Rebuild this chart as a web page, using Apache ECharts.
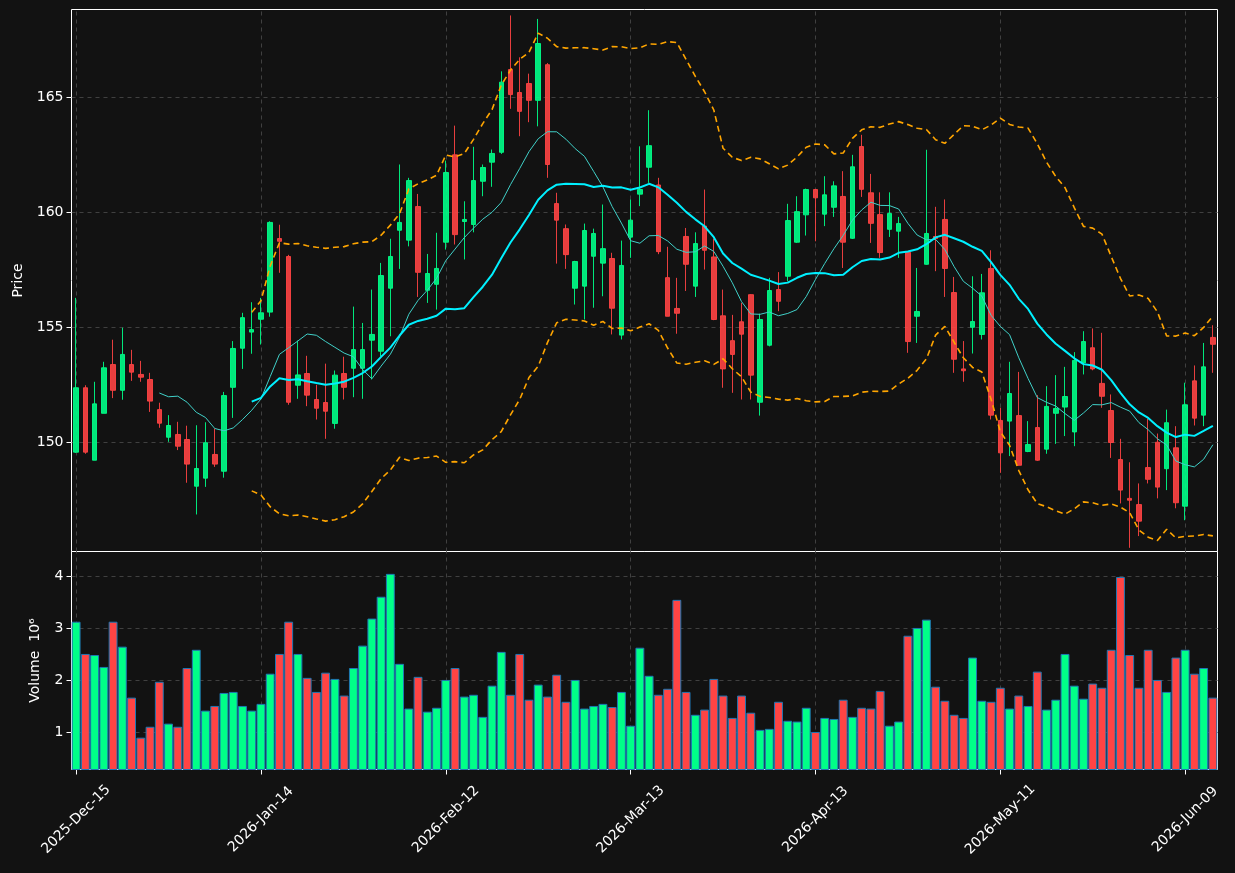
<!DOCTYPE html>
<html>
<head>
<meta charset="utf-8">
<script src="https://cdn.jsdelivr.net/npm/echarts@6/dist/echarts.min.js"></script>
<style>
  html, body { margin: 0; padding: 0; background: #121212; }
  #chart { width: 1235px; height: 873px; }
</style>
</head>
<body>
<div id="chart"></div>
<script>
// trading days start on 2025-12-15, US market holidays skipped
const startDay = '2025-12-15'
const holidays = ['2025-12-25', '2026-01-01', '2026-01-19', '2026-02-16', '2026-04-03', '2026-05-25']

const opens = [
  149.58, 152.38, 149.23, 151.27, 153.39, 152.27, 153.39, 152.96, 152.74, 151.43,
  150.23, 150.35, 150.13, 148.10, 148.45, 149.48, 148.75, 152.40, 154.10, 154.80,
  155.36, 155.67, 158.87, 158.09, 152.49, 153.00, 151.87, 151.74, 150.83, 153.00,
  153.23, 153.23, 154.45, 153.97, 156.71, 159.23, 158.80, 160.26, 156.62, 156.88,
  158.71, 162.51, 159.61, 159.48, 161.36, 162.19, 162.62, 166.22, 165.22, 165.61,
  164.88, 166.43, 160.39, 159.30, 156.71, 156.80, 158.10, 157.80, 158.00, 154.67,
  158.93, 160.80, 161.97, 161.20, 157.17, 155.83, 158.96, 156.80, 159.41, 158.07,
  155.51, 154.43, 155.25, 156.43, 151.75, 154.23, 156.65, 157.23, 158.71, 159.90,
  161.00, 159.93, 160.23, 160.70, 158.88, 162.87, 160.86, 159.91, 159.27, 159.19,
  158.27, 155.49, 157.75, 158.96, 159.70, 156.52, 153.20, 155.01, 154.70, 157.57,
  150.96, 150.93, 151.17, 149.61, 150.65, 149.71, 151.27, 151.54, 150.46, 153.46,
  154.12, 152.57, 151.39, 149.26, 147.57, 147.30, 148.91, 150.01, 148.86, 149.77,
  147.23, 152.68, 151.19, 154.57
]
const closes = [
  152.38, 149.58, 151.68, 153.25, 152.27, 153.83, 153.06, 152.84, 151.80, 150.84,
  150.74, 149.84, 149.06, 148.87, 149.99, 149.06, 152.04, 154.09, 155.43, 154.91,
  155.64, 159.57, 158.75, 151.75, 152.94, 152.06, 151.49, 151.36, 152.93, 152.40,
  154.04, 154.04, 154.70, 157.26, 158.09, 159.57, 161.39, 157.40, 157.35, 157.57,
  161.74, 159.04, 159.70, 161.39, 161.96, 162.57, 165.67, 165.13, 164.40, 164.88,
  167.35, 162.09, 159.67, 158.17, 157.87, 159.22, 159.09, 158.43, 155.84, 157.70,
  159.67, 161.00, 162.91, 158.30, 155.49, 155.62, 157.75, 158.65, 158.36, 155.35,
  153.20, 153.83, 154.71, 152.93, 155.35, 156.61, 156.14, 159.65, 160.04, 161.00,
  160.64, 160.77, 161.16, 158.71, 161.99, 161.01, 159.53, 158.26, 159.96, 159.52,
  154.39, 155.70, 159.09, 158.87, 157.57, 153.62, 153.12, 155.26, 156.51, 151.19,
  149.55, 152.13, 149.01, 149.91, 149.23, 151.57, 151.48, 152.00, 153.57, 154.39,
  153.20, 152.01, 150.00, 147.93, 147.49, 146.58, 148.40, 148.06, 150.86, 147.38,
  151.64, 151.06, 153.29, 154.27
]
const lows = [
  149.55, 149.51, 149.23, 151.27, 151.93, 151.86, 152.68, 152.64, 151.33, 150.64,
  150.03, 149.67, 148.25, 146.87, 148.07, 148.94, 148.47, 151.07, 153.20, 153.86,
  154.26, 155.47, 157.38, 151.64, 151.90, 151.58, 151.00, 150.16, 150.60, 151.87,
  151.97, 151.90, 152.74, 153.75, 154.62, 157.55, 158.53, 156.33, 156.07, 155.78,
  158.39, 158.61, 157.96, 159.14, 160.71, 161.12, 162.55, 164.51, 163.32, 163.93,
  163.75, 161.51, 157.78, 157.55, 156.00, 155.35, 155.86, 156.36, 154.70, 154.48,
  158.03, 160.28, 161.29, 158.19, 155.49, 154.73, 156.59, 156.33, 157.52, 155.32,
  152.38, 152.16, 151.87, 151.87, 151.17, 154.18, 155.71, 157.01, 158.68, 159.00,
  158.75, 159.41, 159.81, 157.59, 158.85, 160.68, 158.68, 158.03, 158.94, 158.03,
  153.90, 154.33, 157.73, 157.45, 156.33, 153.03, 152.64, 153.87, 154.48, 151.00,
  148.68, 149.41, 149.00, 149.58, 149.20, 149.51, 149.94, 150.28, 149.84, 152.96,
  153.14, 151.51, 149.33, 147.35, 145.42, 145.93, 148.22, 147.57, 147.93, 147.14,
  146.62, 150.74, 150.71, 153.03
]
const highs = [
  156.29, 152.49, 152.64, 153.51, 154.47, 154.99, 154.03, 153.55, 153.03, 151.73,
  151.19, 150.90, 150.73, 150.75, 150.88, 150.61, 152.20, 154.41, 155.64, 156.10,
  156.29, 159.62, 159.47, 158.16, 154.43, 153.77, 152.51, 153.43, 153.13, 153.73,
  155.91, 155.20, 156.65, 157.81, 158.86, 162.09, 161.51, 160.81, 158.20, 159.12,
  162.26, 163.78, 160.49, 162.86, 162.09, 162.74, 166.14, 168.57, 166.75, 166.04,
  168.42, 166.50, 160.86, 159.48, 157.90, 159.52, 159.30, 160.35, 158.25, 158.78,
  160.57, 162.88, 164.45, 161.51, 158.51, 157.16, 159.33, 159.14, 161.00, 158.86,
  156.65, 155.55, 156.07, 156.45, 155.60, 157.16, 157.41, 160.38, 160.71, 161.04,
  161.02, 161.58, 161.36, 161.80, 162.51, 163.38, 161.68, 160.88, 160.88, 159.81,
  158.30, 157.59, 162.73, 160.25, 160.57, 157.20, 154.41, 157.23, 157.33, 158.36,
  151.51, 153.51, 153.07, 150.93, 152.06, 152.45, 152.93, 153.29, 153.93, 154.84,
  154.96, 154.77, 152.09, 150.16, 149.14, 148.22, 151.03, 150.39, 151.43, 150.71,
  152.60, 153.35, 154.33, 155.10
]
// volume in millions
const volumes = [
  3.13, 2.51, 2.49, 2.26, 3.13, 2.65, 1.67, 0.90, 1.11, 1.975,
  1.17, 1.11, 2.24, 2.59, 1.42, 1.51, 1.76, 1.78, 1.51, 1.42,
  1.55, 2.13, 2.51, 3.13, 2.51, 2.05, 1.78, 2.15, 2.03, 1.71,
  2.24, 2.67, 3.19, 3.61, 4.05, 2.32, 1.46, 2.07, 1.40, 1.475,
  2.01, 2.24, 1.69, 1.725, 1.30, 1.90, 2.55, 1.725, 2.51, 1.63,
  1.92, 1.69, 2.11, 1.59, 2.01, 1.46, 1.51, 1.55, 1.49, 1.78,
  1.13, 2.63, 2.09, 1.725, 1.84, 3.55, 1.78, 1.34, 1.44, 2.03,
  1.71, 1.28, 1.71, 1.38, 1.05, 1.07, 1.59, 1.225, 1.21, 1.475,
  1.01, 1.28, 1.26, 1.63, 1.30, 1.475, 1.46, 1.80, 1.13, 1.21,
  2.86, 3.01, 3.17, 1.88, 1.61, 1.34, 1.28, 2.44, 1.61, 1.59,
  1.86, 1.46, 1.71, 1.51, 2.17, 1.44, 1.63, 2.51, 1.90, 1.65,
  1.94, 1.86, 2.59, 3.99, 2.49, 1.86, 2.59, 2.01, 1.78, 2.44,
  2.59, 2.13, 2.24, 1.67
]

const upColor = '#00ff88'
const downColor = '#ff4444'
const gridColor = '#404040'
const monthNames = ['Jan', 'Feb', 'Mar', 'Apr', 'May', 'Jun', 'Jul', 'Aug', 'Sep', 'Oct', 'Nov', 'Dec']

function pad (n) { return n < 10 ? '0' + n : '' + n }

function tradingDays (start, count) {
  const out = []
  const d = new Date(start + 'T00:00:00Z')
  while (out.length < count) {
    const iso = d.getUTCFullYear() + '-' + pad(d.getUTCMonth() + 1) + '-' + pad(d.getUTCDate())
    const wd = d.getUTCDay()
    if (wd !== 0 && wd !== 6 && holidays.indexOf(iso) < 0) {
      out.push(d.getUTCFullYear() + '-' + monthNames[d.getUTCMonth()] + '-' + pad(d.getUTCDate()))
    }
    d.setUTCDate(d.getUTCDate() + 1)
  }
  return out
}

function movingAvg (arr, n) {
  return arr.map((v, i) => {
    if (i < n - 1) return null
    let s = 0
    for (let k = i - n + 1; k <= i; k++) s += arr[k]
    return +(s / n).toFixed(3)
  })
}

function bollinger (arr, n, k) {
  const mid = movingAvg(arr, n)
  const upper = []
  const lower = []
  arr.forEach((v, i) => {
    if (mid[i] === null) { upper.push(null); lower.push(null); return }
    let s = 0
    for (let j = i - n + 1; j <= i; j++) s += (arr[j] - mid[i]) ** 2
    const sd = Math.sqrt(s / n)
    upper.push(+(mid[i] + k * sd).toFixed(3))
    lower.push(+(mid[i] - k * sd).toFixed(3))
  })
  return { upper, lower }
}

const dates = tradingDays(startDay, closes.length)
const ohlc = closes.map((c, i) => [opens[i], c, lows[i], highs[i]])
const ma10 = movingAvg(closes, 10)
const ma20 = movingAvg(closes, 20)
const bands = bollinger(closes, 20, 2)
const volBars = volumes.map((v, i) => ({
  value: v,
  itemStyle: { color: closes[i] >= opens[i] ? upColor : downColor }
}))
const vLines = dates.filter((d, i) => i % 20 === 0).map(d => ({ xAxis: d }))

const vLineMark = {
  silent: true,
  z: 0,
  symbol: ['none', 'none'],
  label: { show: false },
  lineStyle: { type: [4, 4], color: gridColor, width: 1 },
  data: vLines,
  animation: false
}

const hSplit = {
  show: true,
  showMinLine: false,
  showMaxLine: false,
  lineStyle: { type: [4, 4], color: gridColor, width: 1 }
}

const chart = echarts.init(document.getElementById('chart'))
chart.setOption({
  backgroundColor: '#121212',
  animation: false,
  textStyle: { fontFamily: 'DejaVu Sans' },
  grid: [
    { left: 71.5, width: 1146, top: 9.5, height: 542, show: true, borderColor: '#ffffff', borderWidth: 1, backgroundColor: 'transparent' },
    { left: 71.5, width: 1146, top: 551.5, height: 218, show: true, borderColor: '#ffffff', borderWidth: 1, backgroundColor: 'transparent' }
  ],
  xAxis: [
    {
      type: 'category',
      gridIndex: 0,
      data: dates,
      boundaryGap: true,
      axisLine: { show: false },
      axisTick: { show: false },
      axisLabel: { show: false },
      splitLine: { show: false }
    },
    {
      type: 'category',
      gridIndex: 1,
      data: dates,
      boundaryGap: true,
      axisLine: { show: false },
      axisTick: { show: true, interval: 19, alignWithLabel: true, length: 5, lineStyle: { color: '#ffffff' } },
      axisLabel: {
        interval: 19,
        rotate: 45,
        color: '#ffffff',
        fontSize: 14,
        margin: 50,
        align: 'center',
        verticalAlign: 'middle'
      },
      splitLine: { show: false }
    }
  ],
  yAxis: [
    {
      type: 'value',
      gridIndex: 0,
      min: 145.26,
      max: 168.83,
      splitNumber: 5,
      name: 'Price',
      nameLocation: 'middle',
      nameGap: 46,
      nameTextStyle: { color: '#ffffff', fontSize: 14 },
      axisLine: { show: false },
      axisTick: { show: true, length: 5, lineStyle: { color: '#ffffff' } },
      axisLabel: { color: '#ffffff', fontSize: 14, margin: 8, showMinLabel: false, showMaxLabel: false },
      splitLine: hSplit
    },
    {
      type: 'value',
      gridIndex: 1,
      min: 0.288,
      max: 4.48,
      splitNumber: 4,
      name: 'Volume  10\u2076',
      nameLocation: 'middle',
      nameGap: 29,
      nameTextStyle: { color: '#ffffff', fontSize: 14 },
      axisLine: { show: false },
      axisTick: { show: true, length: 5, lineStyle: { color: '#ffffff' } },
      axisLabel: { color: '#ffffff', fontSize: 14, margin: 8, showMinLabel: false, showMaxLabel: false },
      splitLine: hSplit
    }
  ],
  series: [
    {
      name: 'OHLC',
      type: 'candlestick',
      xAxisIndex: 0,
      yAxisIndex: 0,
      data: ohlc,
      barWidth: 5,
      itemStyle: {
        color: 'rgba(0,255,136,0.9)',
        color0: 'rgba(255,68,68,0.9)',
        borderColor: 'rgba(0,255,136,0.9)',
        borderColor0: 'rgba(255,68,68,0.9)',
        borderWidth: 1
      },
      markLine: vLineMark,
      z: 2
    },
    {
      name: 'MA10',
      type: 'line',
      xAxisIndex: 0,
      yAxisIndex: 0,
      data: ma10,
      showSymbol: false,
      lineStyle: { color: '#40d0c8', width: 1 },
      z: 3
    },
    {
      name: 'MA20',
      type: 'line',
      xAxisIndex: 0,
      yAxisIndex: 0,
      data: ma20,
      showSymbol: false,
      lineStyle: { color: '#00f0ff', width: 2 },
      z: 3
    },
    {
      name: 'BB upper',
      type: 'line',
      xAxisIndex: 0,
      yAxisIndex: 0,
      data: bands.upper,
      showSymbol: false,
      lineStyle: { color: '#ffa500', width: 1.6, type: [6, 4] },
      z: 3
    },
    {
      name: 'BB lower',
      type: 'line',
      xAxisIndex: 0,
      yAxisIndex: 0,
      data: bands.lower,
      showSymbol: false,
      lineStyle: { color: '#ffa500', width: 1.6, type: [6, 4] },
      z: 3
    },
    {
      name: 'Volume',
      type: 'bar',
      xAxisIndex: 1,
      yAxisIndex: 1,
      data: volBars,
      barCategoryGap: '4%',
      itemStyle: { borderColor: '#1f77b4', borderWidth: 1 },
      markLine: vLineMark,
      z: 2
    }
  ]
})
</script>
</body>
</html>
